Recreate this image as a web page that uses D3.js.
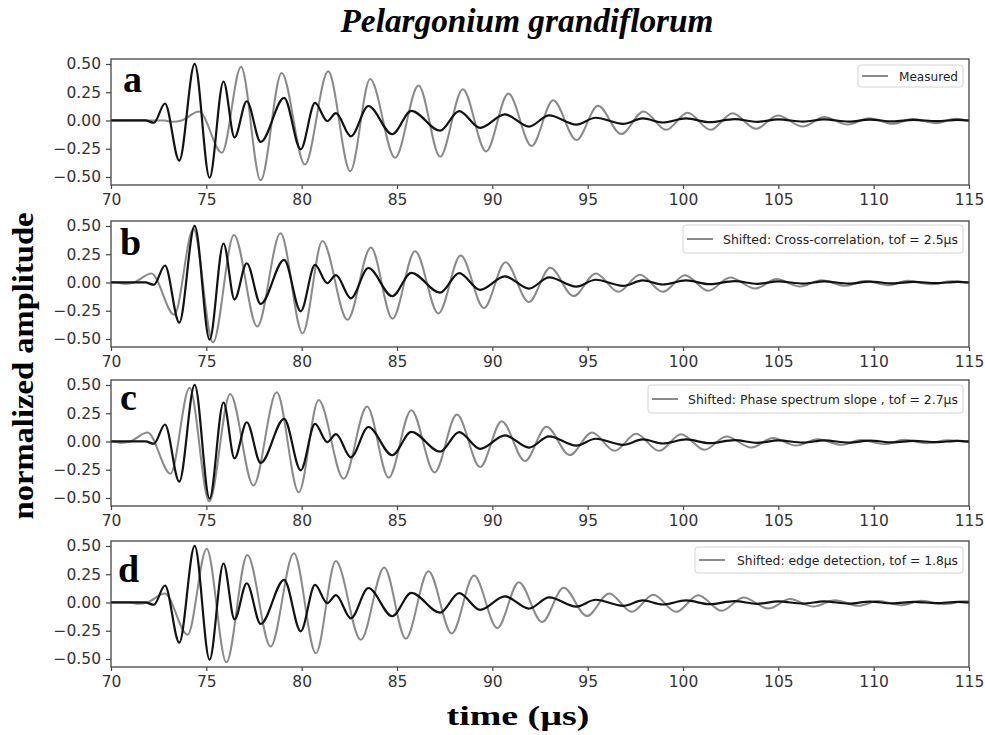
<!DOCTYPE html>
<html lang="en">
<head>
<meta charset="UTF-8">
<title>Pelargonium grandiflorum</title>
<script src="https://d3js.org/d3.v7.min.js"></script>
<style>
    body { margin: 0; background: #fff; }
    svg { display: block; }
    .tick text { font-family: "DejaVu Sans", sans-serif; font-size: 15.5px; fill: #333; }
    .tick line { stroke: #444; stroke-width: 1.2px; }
    .frame { fill: none; stroke: #444; stroke-width: 1.3px; }
    .serif { font-family: "Liberation Serif", "Times New Roman", serif; font-weight: bold; fill: #000; }
    .legend text { font-family: "DejaVu Sans", sans-serif; font-size: 13px; fill: #222; }
</style>
</head>
<body>
<div id="chart"></div>
<script>
// tick labels
const xTicks = [70, 75, 80, 85, 90, 95, 100, 105, 110, 115];
const yTicks = [-0.5, -0.25, 0, 0.25, 0.5];

// panels
const panelLetters = ["a", "b", "c", "d"];
const tofValues = [0, 2.5, 2.7, 1.8];
const legendNames = ["Measured", "Shifted: Cross-correlation, tof = ", "Shifted: Phase spectrum slope , tof = ", "Shifted: edge detection, tof = "];

// reference signal (black), read at its peaks and troughs
const refTime = [70.0, 71.8, 72.25, 72.83, 73.58, 74.39, 75.17, 75.90, 76.48, 77.12, 77.85, 79.08, 79.95, 80.70, 81.34, 81.80,
    82.58, 83.50, 84.75, 85.75, 87.26, 88.26, 89.36, 90.66, 91.92, 92.98, 94.40, 95.42, 96.85, 97.89, 98.94, 100.16,
    101.4, 102.7, 103.9, 105.0, 106.3, 107.4, 108.7, 109.8, 111.0, 112.1, 113.3, 114.4, 115.0];
const refAmp = [0, 0, -0.02, 0.15, -0.355, 0.50, -0.505, 0.345, -0.15, 0.17, -0.19, 0.20, -0.255, 0.155, -0.005, 0.065,
    -0.14, 0.128, -0.122, 0.085, -0.09, 0.083, -0.065, 0.054, -0.054, 0.045, -0.036, 0.024, -0.03, 0.018, -0.018, 0.018,
    -0.015, 0.012, -0.012, 0.01, -0.01, 0.01, -0.01, 0.008, -0.008, 0.006, -0.006, 0.006, 0];

// measured signal (gray), unshifted
const measTime = [70.0, 72.8, 73.26, 73.7, 74.62, 75.82, 76.82, 77.85, 78.95, 80.17, 81.39, 82.55, 83.59, 84.90, 86.13, 87.26,
    88.45, 89.67, 90.84, 92.06, 93.19, 94.41, 95.54, 96.76, 97.93, 99.11, 100.24, 101.45, 102.6, 103.83, 104.97, 106.28,
    107.41, 108.64, 109.77, 111.0, 112.05, 113.27, 114.3, 115.5, 116.6, 117.8];
const measAmp = [0, 0, -0.012, 0.0, 0.08, -0.285, 0.476, -0.53, 0.42, -0.39, 0.435, -0.45, 0.366, -0.33, 0.31, -0.32,
    0.277, -0.274, 0.238, -0.226, 0.18, -0.173, 0.13, -0.12, 0.08, -0.083, 0.068, -0.083, 0.065, -0.074, 0.045, -0.054,
    0.03, -0.036, 0.02, -0.03, 0.012, -0.024, 0.015, -0.015, 0.01, -0.01];

const width = 985, height = 735;
const plotLeft = 111, plotRight = 969, panelH = 126;
const panelTops = [59, 221, 380, 541];
const letterPos = [[123, 92], [120, 255], [120, 410], [118, 582]];
const legendBoxes = [
    {x: 858, y: 65, w: 105, h: 22, textW: 59},
    {x: 683, y: 225, w: 280, h: 28, textW: 235},
    {x: 648, y: 385, w: 315, h: 28, textW: 270},
    {x: 695, y: 547, w: 268, h: 26, textW: 221}
];

const svg = d3.select("#chart").append("svg")
    .attr("width", width).attr("height", height);

const x = d3.scaleLinear().domain([70, 115]).range([plotLeft, plotRight]);

const refData = refTime.map((t, i) => ({t: t, v: refAmp[i]}));

panelLetters.forEach((letter, i) => {
    const top = panelTops[i];
    const y = d3.scaleLinear().domain([-0.571, 0.544]).range([top + panelH, top]);
    const g = svg.append("g");

    g.append("clipPath").attr("id", "clip" + i)
        .append("rect")
        .attr("x", plotLeft).attr("y", top)
        .attr("width", plotRight - plotLeft).attr("height", panelH);

    const line = d3.line()
        .x(d => x(d.t))
        .y(d => y(d.v))
        .curve(d3.curveMonotoneX);

    const measData = measTime.map((t, k) => ({t: t - tofValues[i], v: measAmp[k]}));

    const lines = g.append("g").attr("clip-path", `url(#clip${i})`);
    lines.append("path")
        .datum(measData)
        .attr("fill", "none")
        .attr("stroke", "#8a8a8a")
        .attr("stroke-width", 2)
        .attr("d", line);
    lines.append("path")
        .datum(refData)
        .attr("fill", "none")
        .attr("stroke", "#121212")
        .attr("stroke-width", 2.2)
        .attr("d", line);

    g.append("g")
        .attr("transform", `translate(0,${top + panelH})`)
        .call(d3.axisBottom(x).tickValues(xTicks).tickSize(4).tickPadding(5).tickFormat(d3.format("d")))
        .call(a => a.select(".domain").remove());

    g.append("g")
        .attr("transform", `translate(${plotLeft},0)`)
        .call(d3.axisLeft(y).tickValues(yTicks).tickSize(5).tickPadding(5).tickFormat(d3.format(".2f")))
        .call(a => a.select(".domain").remove());

    g.append("rect").attr("class", "frame")
        .attr("x", plotLeft).attr("y", top)
        .attr("width", plotRight - plotLeft).attr("height", panelH);

    g.append("text").attr("class", "serif")
        .attr("x", letterPos[i][0]).attr("y", letterPos[i][1])
        .attr("font-size", 38)
        .text(letter);

    // legend
    const lb = legendBoxes[i];
    const leg = g.append("g").attr("class", "legend");
    leg.append("rect")
        .attr("x", lb.x).attr("y", lb.y).attr("width", lb.w).attr("height", lb.h)
        .attr("rx", 3)
        .attr("fill", "#fff").attr("fill-opacity", 0.85)
        .attr("stroke", "#d4d4d4");
    const cy = lb.y + lb.h / 2;
    leg.append("line")
        .attr("x1", lb.x + 4).attr("x2", lb.x + 30)
        .attr("y1", cy).attr("y2", cy)
        .attr("stroke", "#8a8a8a").attr("stroke-width", 2);
    const label = i > 0 ? legendNames[i] + tofValues[i].toFixed(1) + "μs" : legendNames[i];
    leg.append("text")
        .attr("x", lb.x + lb.w - 5 - lb.textW).attr("y", cy + 4.5)
        .attr("textLength", lb.textW).attr("lengthAdjust", "spacingAndGlyphs")
        .text(label);
});

svg.append("text").attr("class", "serif")
    .attr("x", 527).attr("y", 32)
    .attr("text-anchor", "middle")
    .attr("font-style", "italic")
    .attr("font-size", 34)
    .attr("textLength", 373).attr("lengthAdjust", "spacingAndGlyphs")
    .text("Pelargonium grandiflorum");

svg.append("text").attr("class", "serif")
    .attr("transform", "translate(33,366) rotate(-90)")
    .attr("text-anchor", "middle")
    .attr("font-size", 30)
    .attr("textLength", 307).attr("lengthAdjust", "spacingAndGlyphs")
    .text("normalized amplitude");

svg.append("text").attr("class", "serif")
    .attr("x", 518).attr("y", 725)
    .attr("text-anchor", "middle")
    .attr("font-size", 28)
    .attr("textLength", 143).attr("lengthAdjust", "spacingAndGlyphs")
    .text("time (µs)");
</script>
</body>
</html>
